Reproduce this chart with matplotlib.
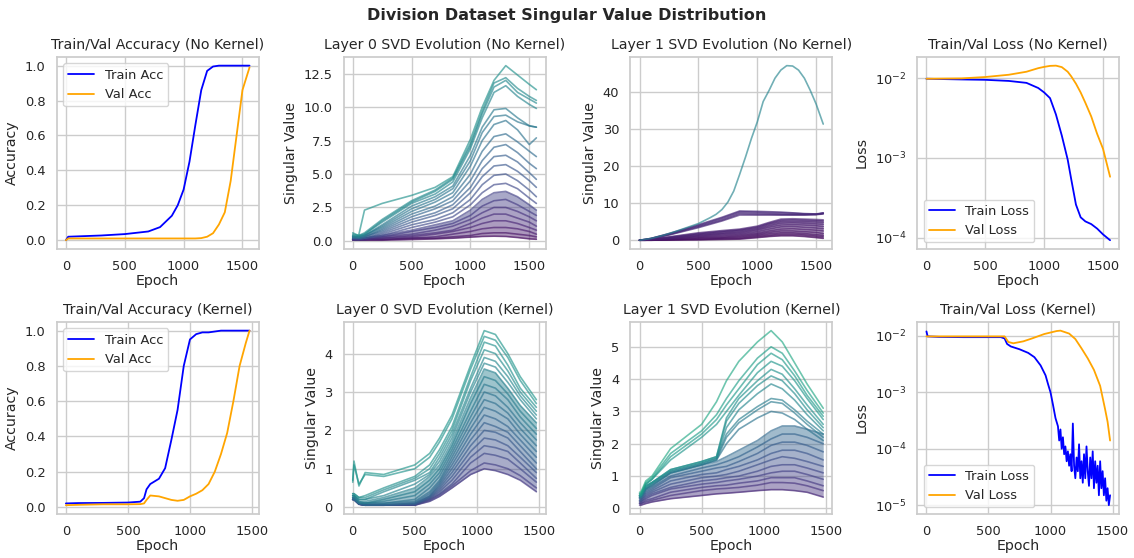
import matplotlib
matplotlib.use("Agg")
import matplotlib.pyplot as plt
import numpy as np
import seaborn as sns

# ---------------- data ----------------
# accuracy, no kernel
acc_nk_ep = [0, 20, 100, 300, 500, 700, 800, 900, 950, 1000, 1050, 1100, 1150, 1200,
             1250, 1300, 1350, 1400, 1450, 1500, 1560]
acc_nk_train = [0.0, 0.02, 0.022, 0.027, 0.035, 0.05, 0.075, 0.14, 0.2, 0.29, 0.45, 0.66,
                0.86, 0.97, 0.995, 1.0, 1.0, 1.0, 1.0, 1.0, 1.0]
acc_nk_val = [0.0, 0.01, 0.01, 0.01, 0.01, 0.01, 0.01, 0.01, 0.01, 0.01, 0.01, 0.01,
              0.012, 0.02, 0.04, 0.09, 0.16, 0.34, 0.6, 0.86, 0.99]

# accuracy, kernel
acc_k_ep = [0, 100, 300, 500, 600, 630, 650, 680, 750, 800, 850, 900, 950, 1000, 1050,
            1100, 1150, 1200, 1250, 1300, 1350, 1400, 1450, 1480]
acc_k_train = [0.02, 0.022, 0.023, 0.025, 0.03, 0.05, 0.1, 0.13, 0.16, 0.22, 0.38, 0.55,
               0.8, 0.95, 0.98, 0.99, 0.99, 0.995, 1.0, 1.0, 1.0, 1.0, 1.0, 1.0]
acc_k_val = [0.01, 0.012, 0.015, 0.015, 0.016, 0.02, 0.04, 0.065, 0.06, 0.05, 0.04, 0.035,
             0.04, 0.06, 0.075, 0.095, 0.13, 0.2, 0.3, 0.42, 0.6, 0.8, 0.93, 1.0]

# loss, no kernel
loss_nk_ep = [0, 300, 500, 700, 850, 950, 1000, 1050, 1100, 1150, 1200, 1230, 1270, 1310,
              1350, 1400, 1450, 1500, 1560]
loss_nk_train = [0.0098, 0.0096, 0.0095, 0.0092, 0.0087, 0.0075, 0.0066, 0.0056, 0.0035,
                 0.0019, 0.00095, 0.00054, 0.00026, 0.00018, 0.00016, 0.000148, 0.00013,
                 0.00011, 0.000093]
loss_nk_val = [0.0098, 0.0099, 0.0103, 0.011, 0.012, 0.0133, 0.0138, 0.0142, 0.0143, 0.0137,
               0.012, 0.0105, 0.0085, 0.0066, 0.0049, 0.0033, 0.002, 0.0013, 0.00058]

# loss, kernel
loss_k_train_ep = [0, 10, 100, 300, 600, 630, 650, 680, 750, 820, 870, 920, 960, 980, 1000,
                   1020, 1040, 1060, 1070, 1080, 1090, 1100, 1110, 1120, 1130, 1140, 1150,
                   1160, 1170, 1180, 1190, 1200, 1210, 1220, 1230, 1240, 1250, 1260, 1270,
                   1280, 1290, 1300, 1310, 1320, 1330, 1340, 1350, 1360, 1370, 1380, 1390,
                   1400, 1410, 1420, 1430, 1440, 1450, 1460, 1470, 1480]
loss_k_train = [0.012, 0.0098, 0.0096, 0.0095, 0.0095, 0.009, 0.0072, 0.0065, 0.0058, 0.005,
                0.0042, 0.003, 0.002, 0.0014, 0.001, 6e-4, 3.5e-4, 2.5e-4, 1.4e-4, 2.2e-4,
                1.0e-4, 1.6e-4, 8e-5, 1.1e-4, 6e-5, 9e-5, 5e-5, 8e-5, 4e-5, 2.8e-4, 5e-5,
                3e-5, 7e-5, 4e-5, 1.2e-4, 3e-5, 6e-5, 2.5e-5, 8e-5, 3e-5, 1.1e-4, 4e-5, 2.2e-5,
                7e-5, 3e-5, 9e-5, 2e-5, 6e-5, 2.5e-5, 5e-5, 1.5e-5, 6e-5, 2e-5, 4e-5, 1.5e-5,
                3e-5, 1.2e-5, 2e-5, 1e-5, 1.5e-5]
loss_k_val_ep = [0, 300, 600, 630, 660, 700, 780, 850, 950, 1050, 1080, 1150, 1200, 1250,
                 1300, 1350, 1400, 1440, 1460, 1480]
loss_k_val = [0.0098, 0.0098, 0.0098, 0.0098, 0.0078, 0.0074, 0.008, 0.009, 0.0108, 0.0122,
              0.0124, 0.011, 0.0088, 0.006, 0.004, 0.0025, 0.0013, 0.0005, 0.0003, 0.00014]

# singular values, no kernel (one row per singular value)
svd_nk_ep = [0, 50, 100, 250, 500, 700, 850, 1000, 1100, 1200, 1300, 1400, 1500, 1560]
svd_l0_nk = [
    [0.6, 0.4, 2.3, 2.8, 3.4, 4.0, 4.8, 7.6, 10.0, 12.0, 13.1, 12.4, 11.7, 11.3],
    [0.5, 0.4, 0.6, 1.6, 3.0, 3.8, 4.7, 7.3, 9.7, 11.8, 12.2, 11.4, 10.8, 10.5],
    [0.4, 0.4, 0.5, 1.5, 2.9, 3.7, 4.6, 7.1, 9.5, 11.5, 12.0, 11.1, 10.6, 10.3],
    [0.4, 0.3, 0.5, 1.4, 2.8, 3.5, 4.4, 6.9, 9.2, 11.1, 11.6, 10.8, 10.2, 9.9],
    [0.3, 0.3, 0.4, 1.2, 2.6, 3.3, 4.1, 6.4, 8.5, 9.8, 9.9, 9.2, 8.6, 8.5],
    [0.3, 0.3, 0.4, 1.1, 2.4, 3.1, 3.9, 6.0, 8.1, 9.3, 9.4, 8.9, 8.6, 8.5],
    [0.3, 0.3, 0.4, 1.0, 2.2, 2.9, 3.6, 5.6, 7.5, 8.7, 9.0, 8.3, 7.2, 7.7],
    [0.3, 0.2, 0.3, 0.9, 2.0, 2.6, 3.3, 5.0, 6.7, 7.8, 8.0, 7.4, 6.7, 6.3],
    [0.2, 0.2, 0.3, 0.8, 1.8, 2.4, 3.0, 4.5, 6.0, 7.0, 7.2, 6.6, 5.8, 5.4],
    [0.2, 0.2, 0.3, 0.7, 1.6, 2.1, 2.7, 4.0, 5.4, 6.3, 6.4, 5.9, 5.1, 4.6],
    [0.2, 0.2, 0.2, 0.6, 1.4, 1.9, 2.4, 3.6, 4.8, 5.6, 5.7, 5.2, 4.5, 4.0],
    [0.2, 0.2, 0.2, 0.5, 1.2, 1.6, 2.1, 3.1, 4.2, 4.9, 5.0, 4.5, 3.8, 3.3],
    [0.2, 0.1, 0.2, 0.4, 1.0, 1.4, 1.8, 2.7, 3.6, 4.2, 4.3, 3.9, 3.2, 2.8],
    [0.1, 0.1, 0.2, 0.4, 0.8, 1.2, 1.5, 2.3, 3.1, 3.6, 3.7, 3.3, 2.7, 2.3],
    [0.1, 0.1, 0.2, 0.3, 0.7, 1.0, 1.3, 1.9, 2.6, 3.0, 3.1, 2.7, 2.2, 1.9],
    [0.1, 0.1, 0.1, 0.3, 0.5, 0.8, 1.1, 1.6, 2.1, 2.5, 2.5, 2.2, 1.8, 1.5],
    [0.1, 0.1, 0.1, 0.2, 0.4, 0.6, 0.8, 1.3, 1.7, 2.0, 2.0, 1.7, 1.4, 1.1],
    [0.1, 0.1, 0.1, 0.2, 0.3, 0.5, 0.7, 1.0, 1.3, 1.5, 1.5, 1.3, 1.0, 0.8],
    [0.1, 0.1, 0.1, 0.1, 0.2, 0.3, 0.5, 0.7, 0.9, 1.0, 1.0, 0.9, 0.7, 0.5],
    [0.1, 0.1, 0.1, 0.1, 0.2, 0.2, 0.3, 0.4, 0.55, 0.6, 0.6, 0.5, 0.4, 0.3],
    [0.05, 0.05, 0.05, 0.05, 0.1, 0.15, 0.2, 0.28, 0.33, 0.35, 0.33, 0.25, 0.15, 0.12],
]
# layer 1, no kernel: the dominant singular value, read on a finer grid
svd_l1_nk_top_ep = [0, 100, 200, 300, 400, 500, 600, 650, 700, 750, 800, 850, 900, 950,
                    1000, 1050, 1100, 1150, 1200, 1250, 1300, 1350, 1400, 1450, 1500, 1560]
svd_l1_nk_top = [0.0, 0.5, 1.3, 2.3, 3.4, 4.5, 6.1, 7.0, 8.3, 10.3, 13.3, 17.8, 22.5, 27.5,
                 32.0, 37.5, 40.5, 43.8, 46.0, 47.2, 47.1, 46.0, 43.8, 40.5, 36.8, 31.4]
svd_l1_nk = [
    [0.0, 0.2, 0.5, 1.8, 4.2, 6.2, 7.9, 7.8, 7.7, 7.6, 7.4, 7.2, 7.1, 7.4],
    [0.0, 0.2, 0.5, 1.7, 4.0, 6.0, 7.7, 7.6, 7.5, 7.4, 7.3, 7.1, 7.0, 7.3],
    [0.0, 0.2, 0.4, 1.6, 3.8, 5.7, 7.4, 7.3, 7.2, 7.1, 7.0, 7.0, 7.0, 7.2],
    [0.0, 0.2, 0.4, 1.5, 3.6, 5.4, 7.1, 7.0, 7.0, 6.9, 6.9, 6.9, 7.0, 7.3],
    [0.0, 0.1, 0.4, 1.4, 3.4, 5.2, 6.8, 6.8, 6.8, 6.8, 6.8, 6.8, 6.9, 7.1],
    [0.0, 0.1, 0.3, 0.9, 2.0, 2.6, 3.0, 3.8, 4.8, 5.7, 5.8, 5.7, 5.6, 5.5],
    [0.0, 0.1, 0.3, 0.8, 1.8, 2.4, 2.8, 3.6, 4.6, 5.4, 5.5, 5.4, 5.3, 5.2],
    [0.0, 0.1, 0.2, 0.7, 1.6, 2.2, 2.6, 3.3, 4.3, 5.0, 5.1, 5.0, 4.9, 4.8],
    [0.0, 0.1, 0.2, 0.6, 1.4, 1.9, 2.3, 3.0, 3.9, 4.6, 4.7, 4.6, 4.4, 4.3],
    [0.0, 0.1, 0.2, 0.5, 1.2, 1.7, 2.0, 2.7, 3.5, 4.1, 4.2, 4.1, 3.9, 3.7],
    [0.0, 0.0, 0.1, 0.4, 1.0, 1.4, 1.7, 2.3, 3.0, 3.6, 3.7, 3.5, 3.3, 3.1],
    [0.0, 0.0, 0.1, 0.3, 0.8, 1.1, 1.4, 1.9, 2.5, 3.0, 3.1, 2.9, 2.7, 2.5],
    [0.0, 0.0, 0.1, 0.2, 0.6, 0.8, 1.1, 1.6, 2.1, 2.5, 2.5, 2.3, 2.1, 1.8],
    [0.0, 0.0, 0.0, 0.1, 0.4, 0.6, 0.8, 1.3, 1.7, 2.0, 2.0, 1.8, 1.5, 1.3],
    [0.0, 0.0, 0.0, 0.1, 0.2, 0.4, 0.5, 1.0, 1.3, 1.6, 1.6, 1.4, 1.1, 0.9],
    [0.0, 0.0, 0.0, 0.05, 0.1, 0.2, 0.3, 0.7, 1.0, 1.2, 1.2, 1.0, 0.7, 0.5],
]

# singular values, kernel
svd_k_ep = [0, 10, 50, 100, 250, 500, 620, 700, 800, 950, 1060, 1150, 1250, 1350, 1480]
svd_l0_k = [
    [0.7, 1.2, 0.55, 0.9, 0.85, 1.1, 1.4, 1.8, 2.4, 3.7, 4.6, 4.5, 4.0, 3.4, 2.8],
    [0.65, 1.1, 0.6, 0.85, 0.8, 1.0, 1.3, 1.7, 2.3, 3.6, 4.45, 4.35, 3.9, 3.3, 2.7],
    [0.35, 0.35, 0.25, 0.3, 0.5, 0.8, 1.1, 1.5, 2.1, 3.4, 4.3, 4.2, 3.7, 3.1, 2.6],
    [0.35, 0.35, 0.25, 0.25, 0.45, 0.75, 1.0, 1.4, 2.0, 3.3, 4.1, 4.0, 3.55, 3.0, 2.5],
    [0.3, 0.3, 0.2, 0.2, 0.4, 0.7, 0.9, 1.3, 1.9, 3.1, 3.9, 3.8, 3.4, 2.9, 2.4],
    [0.3, 0.3, 0.2, 0.2, 0.3, 0.6, 0.85, 1.2, 1.8, 3.0, 3.75, 3.65, 3.25, 2.8, 2.3],
    [0.3, 0.3, 0.15, 0.15, 0.25, 0.5, 0.8, 1.1, 1.7, 2.85, 3.6, 3.5, 3.1, 2.65, 2.2],
    [0.3, 0.3, 0.15, 0.1, 0.2, 0.4, 0.7, 1.0, 1.6, 2.7, 3.4, 3.3, 2.95, 2.5, 2.05],
    [0.25, 0.25, 0.1, 0.1, 0.15, 0.3, 0.6, 0.9, 1.5, 2.5, 3.2, 3.1, 2.8, 2.35, 1.9],
    [0.25, 0.25, 0.1, 0.1, 0.1, 0.2, 0.5, 0.8, 1.4, 2.35, 3.0, 2.9, 2.6, 2.2, 1.75],
    [0.25, 0.25, 0.1, 0.1, 0.1, 0.15, 0.4, 0.7, 1.3, 2.2, 2.8, 2.7, 2.45, 2.05, 1.6],
    [0.25, 0.2, 0.1, 0.05, 0.07, 0.12, 0.35, 0.65, 1.2, 2.05, 2.6, 2.5, 2.3, 1.9, 1.45],
    [0.2, 0.2, 0.1, 0.05, 0.06, 0.1, 0.3, 0.6, 1.1, 1.9, 2.4, 2.3, 2.1, 1.75, 1.3],
    [0.2, 0.2, 0.1, 0.05, 0.05, 0.09, 0.28, 0.55, 1.0, 1.75, 2.2, 2.1, 1.95, 1.6, 1.15],
    [0.2, 0.2, 0.08, 0.05, 0.05, 0.08, 0.26, 0.5, 0.9, 1.6, 2.0, 1.95, 1.8, 1.45, 1.0],
    [0.2, 0.2, 0.08, 0.05, 0.05, 0.07, 0.24, 0.45, 0.8, 1.45, 1.8, 1.75, 1.6, 1.3, 0.9],
    [0.2, 0.2, 0.08, 0.05, 0.05, 0.06, 0.22, 0.4, 0.7, 1.3, 1.6, 1.55, 1.45, 1.15, 0.75],
    [0.2, 0.2, 0.08, 0.05, 0.05, 0.06, 0.2, 0.35, 0.6, 1.15, 1.4, 1.35, 1.25, 1.0, 0.65],
    [0.2, 0.2, 0.08, 0.05, 0.05, 0.05, 0.18, 0.32, 0.55, 0.95, 1.15, 1.1, 1.0, 0.82, 0.5],
    [0.2, 0.2, 0.07, 0.05, 0.05, 0.05, 0.15, 0.28, 0.5, 0.85, 1.0, 0.95, 0.85, 0.7, 0.4],
]
svd_l1_k = [
    [0.5, 0.5, 0.85, 1.0, 1.85, 2.6, 3.3, 3.95, 4.55, 5.15, 5.5, 5.15, 4.5, 3.85, 3.1],
    [0.45, 0.45, 0.8, 0.95, 1.7, 2.4, 2.9, 3.4, 3.95, 4.65, 5.0, 4.8, 4.25, 3.65, 2.95],
    [0.45, 0.45, 0.75, 0.9, 1.6, 2.3, 2.75, 3.2, 3.7, 4.45, 4.8, 4.6, 4.1, 3.5, 2.85],
    [0.4, 0.4, 0.75, 0.9, 1.5, 2.2, 2.6, 3.0, 3.5, 4.2, 4.55, 4.4, 3.95, 3.4, 2.75],
    [0.4, 0.4, 0.7, 0.8, 1.2, 1.45, 1.6, 2.8, 3.4, 3.95, 4.3, 4.15, 3.7, 3.2, 2.6],
    [0.4, 0.4, 0.7, 0.8, 1.2, 1.45, 1.6, 2.7, 3.25, 3.8, 4.1, 3.95, 3.55, 3.05, 2.5],
    [0.4, 0.4, 0.65, 0.8, 1.15, 1.4, 1.55, 2.5, 3.05, 3.55, 3.85, 3.7, 3.35, 2.9, 2.4],
    [0.35, 0.35, 0.65, 0.75, 1.15, 1.4, 1.55, 2.3, 2.75, 3.15, 3.4, 3.35, 3.05, 2.7, 2.3],
    [0.35, 0.35, 0.6, 0.75, 1.1, 1.35, 1.5, 2.2, 2.65, 3.05, 3.3, 3.25, 2.95, 2.6, 2.2],
    [0.35, 0.35, 0.6, 0.7, 1.1, 1.35, 1.5, 2.0, 2.45, 2.8, 3.0, 2.95, 2.75, 2.45, 2.1],
    [0.35, 0.35, 0.6, 0.7, 1.1, 1.35, 1.45, 1.6, 1.8, 2.1, 2.4, 2.55, 2.55, 2.45, 2.3],
    [0.3, 0.3, 0.55, 0.65, 1.0, 1.25, 1.35, 1.45, 1.6, 1.9, 2.15, 2.3, 2.3, 2.2, 2.0],
    [0.3, 0.3, 0.5, 0.6, 0.95, 1.15, 1.25, 1.3, 1.45, 1.7, 1.95, 2.05, 2.05, 1.95, 1.75],
    [0.25, 0.25, 0.45, 0.55, 0.85, 1.05, 1.1, 1.2, 1.3, 1.5, 1.7, 1.8, 1.8, 1.7, 1.5],
    [0.25, 0.25, 0.4, 0.5, 0.75, 0.95, 1.0, 1.05, 1.15, 1.35, 1.5, 1.6, 1.55, 1.45, 1.3],
    [0.2, 0.2, 0.35, 0.45, 0.65, 0.85, 0.9, 0.95, 1.0, 1.15, 1.3, 1.35, 1.35, 1.25, 1.1],
    [0.2, 0.2, 0.3, 0.4, 0.6, 0.75, 0.8, 0.85, 0.9, 1.0, 1.1, 1.15, 1.15, 1.05, 0.9],
    [0.15, 0.15, 0.25, 0.3, 0.5, 0.65, 0.7, 0.72, 0.78, 0.85, 0.95, 0.95, 0.95, 0.85, 0.7],
    [0.15, 0.15, 0.2, 0.25, 0.4, 0.55, 0.6, 0.62, 0.65, 0.72, 0.8, 0.8, 0.78, 0.7, 0.55],
    [0.1, 0.1, 0.15, 0.2, 0.3, 0.4, 0.45, 0.47, 0.5, 0.55, 0.58, 0.58, 0.55, 0.5, 0.35],
]

# ---------------- plotting ----------------
sns.set_theme(style="whitegrid", font_scale=0.85)

fig, axes = plt.subplots(2, 4, figsize=(11.34, 5.58), dpi=100)
fig.subplots_adjust(left=0.05, right=0.987, top=0.898, bottom=0.079, wspace=0.42, hspace=0.38)
fig.suptitle("Division Dataset Singular Value Distribution", fontweight="bold", fontsize=11.5, y=0.985)


def acc_panel(ax, ep, tr, va, title):
    ax.plot(ep, tr, color="blue", lw=1.3, label="Train Acc")
    ax.plot(ep, va, color="orange", lw=1.3, label="Val Acc")
    ax.set_title(title)
    ax.set_xlabel("Epoch", labelpad=1)
    ax.set_ylabel("Accuracy")
    ax.legend(loc="upper left")


def loss_panel(ax, ep_tr, tr, ep_va, va, title):
    ax.plot(ep_tr, tr, color="blue", lw=1.3, label="Train Loss")
    ax.plot(ep_va, va, color="orange", lw=1.3, label="Val Loss")
    ax.set_yscale("log")
    ax.set_title(title)
    ax.set_xlabel("Epoch", labelpad=1)
    ax.set_ylabel("Loss")
    ax.legend(loc="lower left")


def svd_panel(ax, ep, lines, title, cmax, n_fill, top_line=None):
    # n_fill: how many of the smallest singular values get their gaps shaded
    lines = np.array(lines)
    peaks = lines.max(axis=1)
    top = peaks.max() if top_line is None else max(top_line[1])
    order = np.argsort(peaks)  # smallest first
    cols = [plt.cm.viridis(cmax * (peaks[i] / top) ** 0.75) for i in order]
    for k in range(min(n_fill, len(order) - 1)):
        lo, hi = lines[order[k]], lines[order[k + 1]]
        ax.fill_between(ep, lo, hi, color=cols[k + 1], alpha=0.45, lw=0)
    for k, i in enumerate(order):
        ax.plot(ep, lines[i], color=cols[k], lw=1.2, alpha=0.65)
    if top_line is not None:
        ax.plot(top_line[0], top_line[1], color=plt.cm.viridis(cmax), lw=1.2, alpha=0.65)
    ax.set_title(title)
    ax.set_xlabel("Epoch", labelpad=1)
    ax.set_ylabel("Singular Value")


acc_panel(axes[0, 0], acc_nk_ep, acc_nk_train, acc_nk_val, "Train/Val Accuracy (No Kernel)")
svd_panel(axes[0, 1], svd_nk_ep, svd_l0_nk, "Layer 0 SVD Evolution (No Kernel)", 0.5, 7)
svd_panel(axes[0, 2], svd_nk_ep, svd_l1_nk, "Layer 1 SVD Evolution (No Kernel)", 0.45, 10,
          top_line=(svd_l1_nk_top_ep, svd_l1_nk_top))
loss_panel(axes[0, 3], loss_nk_ep, loss_nk_train, loss_nk_ep, loss_nk_val, "Train/Val Loss (No Kernel)")

acc_panel(axes[1, 0], acc_k_ep, acc_k_train, acc_k_val, "Train/Val Accuracy (Kernel)")
svd_panel(axes[1, 1], svd_k_ep, svd_l0_k, "Layer 0 SVD Evolution (Kernel)", 0.52, 13)
svd_panel(axes[1, 2], svd_k_ep, svd_l1_k, "Layer 1 SVD Evolution (Kernel)", 0.6, 9)
loss_panel(axes[1, 3], loss_k_train_ep, loss_k_train, loss_k_val_ep, loss_k_val, "Train/Val Loss (Kernel)")

for ax in axes.flat:
    ax.tick_params(pad=2)

fig.savefig("out.png", dpi=100)
